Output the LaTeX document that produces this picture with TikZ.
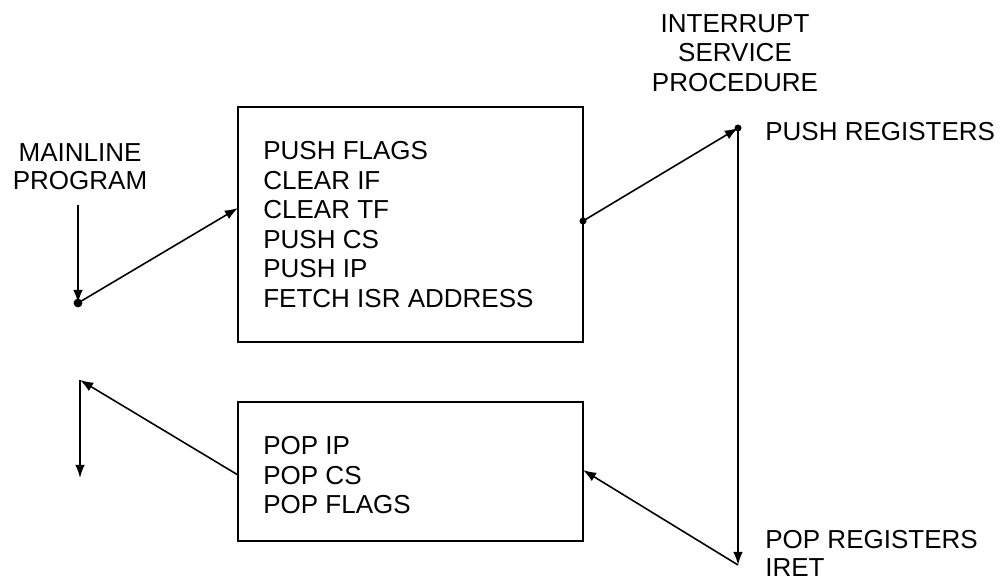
\documentclass[tikz,border=0pt]{standalone}
\usepackage{fontspec}
\setmainfont{Liberation Sans}
\usetikzlibrary{arrows.meta}

\tikzset{
  lbl/.style={inner sep=0pt, font=\fontsize{14.8}{16.8}\selectfont},
  stepbox/.style={draw, line width=1.6pt, inner sep=0pt},
  flow/.style={line width=0.9pt, -{Latex[length=7.5pt,width=5.5pt]}},
  dot/.style={circle, fill, inner sep=0pt, minimum size=5pt}
}

\begin{document}
\begin{tikzpicture}[x=0.02cm, y=-0.02cm]
  \useasboundingbox (0,0) rectangle (1000,584);

  % Coordinates
  \coordinate (M) at (78,205);
  \coordinate (N) at (238,208);
  \coordinate (P) at (738,565);
  \coordinate (Q) at (583,470);
  \coordinate (R) at (238,475);
  \coordinate (S) at (80,380);
  \coordinate (T) at (80,478);

  % Boxes
  \node[stepbox, minimum width=6.9cm, minimum height=4.7cm] (pushbox) at (410.5,224.5) {};
  \node[stepbox, minimum width=6.9cm, minimum height=2.78cm] (popbox) at (410.5,471.5) {};
  \node[lbl, anchor=north west, align=left] (pushtxt) at (263,141)
    {PUSH FLAGS\\CLEAR IF\\CLEAR TF\\PUSH CS\\PUSH IP\\FETCH ISR ADDRESS};
  \node[lbl, anchor=north west, align=left] (poptxt) at (263,436)
    {POP IP\\POP CS\\POP FLAGS};

  % Labels
  \node[lbl, anchor=north, align=center, font=\fontsize{14.8}{15.9}\selectfont] (mainline) at (80,143)
    {MAINLINE\\PROGRAM};
  \node[lbl, anchor=north, align=center] (isr) at (735,14)
    {INTERRUPT\\SERVICE\\PROCEDURE};
  \node[lbl, anchor=west] (pushreg) at (765,132) {PUSH REGISTERS};
  \node[lbl, anchor=north west, align=left, font=\fontsize{14.8}{16}\selectfont] (popreg) at (765,530)
    {POP REGISTERS\\IRET};

  % Dots
  \node[dot] (mdot) at (78,303) {};
  \node[dot, minimum size=4pt] (odot) at (583,221) {};
  \node[dot, minimum size=4pt] (idot) at (738,128) {};

  % Drawing
  \draw[flow] (M) -- (mdot.center);
  \draw[flow] (mdot.center) -- (N);
  \draw[flow] (odot.center) -- (idot.center);
  \draw[flow] (idot.center) -- (P);
  \draw[flow] (P) -- (Q);
  \draw[flow] (R) -- (S);
  \draw[flow] (S) -- (T);
\end{tikzpicture}
\end{document}
